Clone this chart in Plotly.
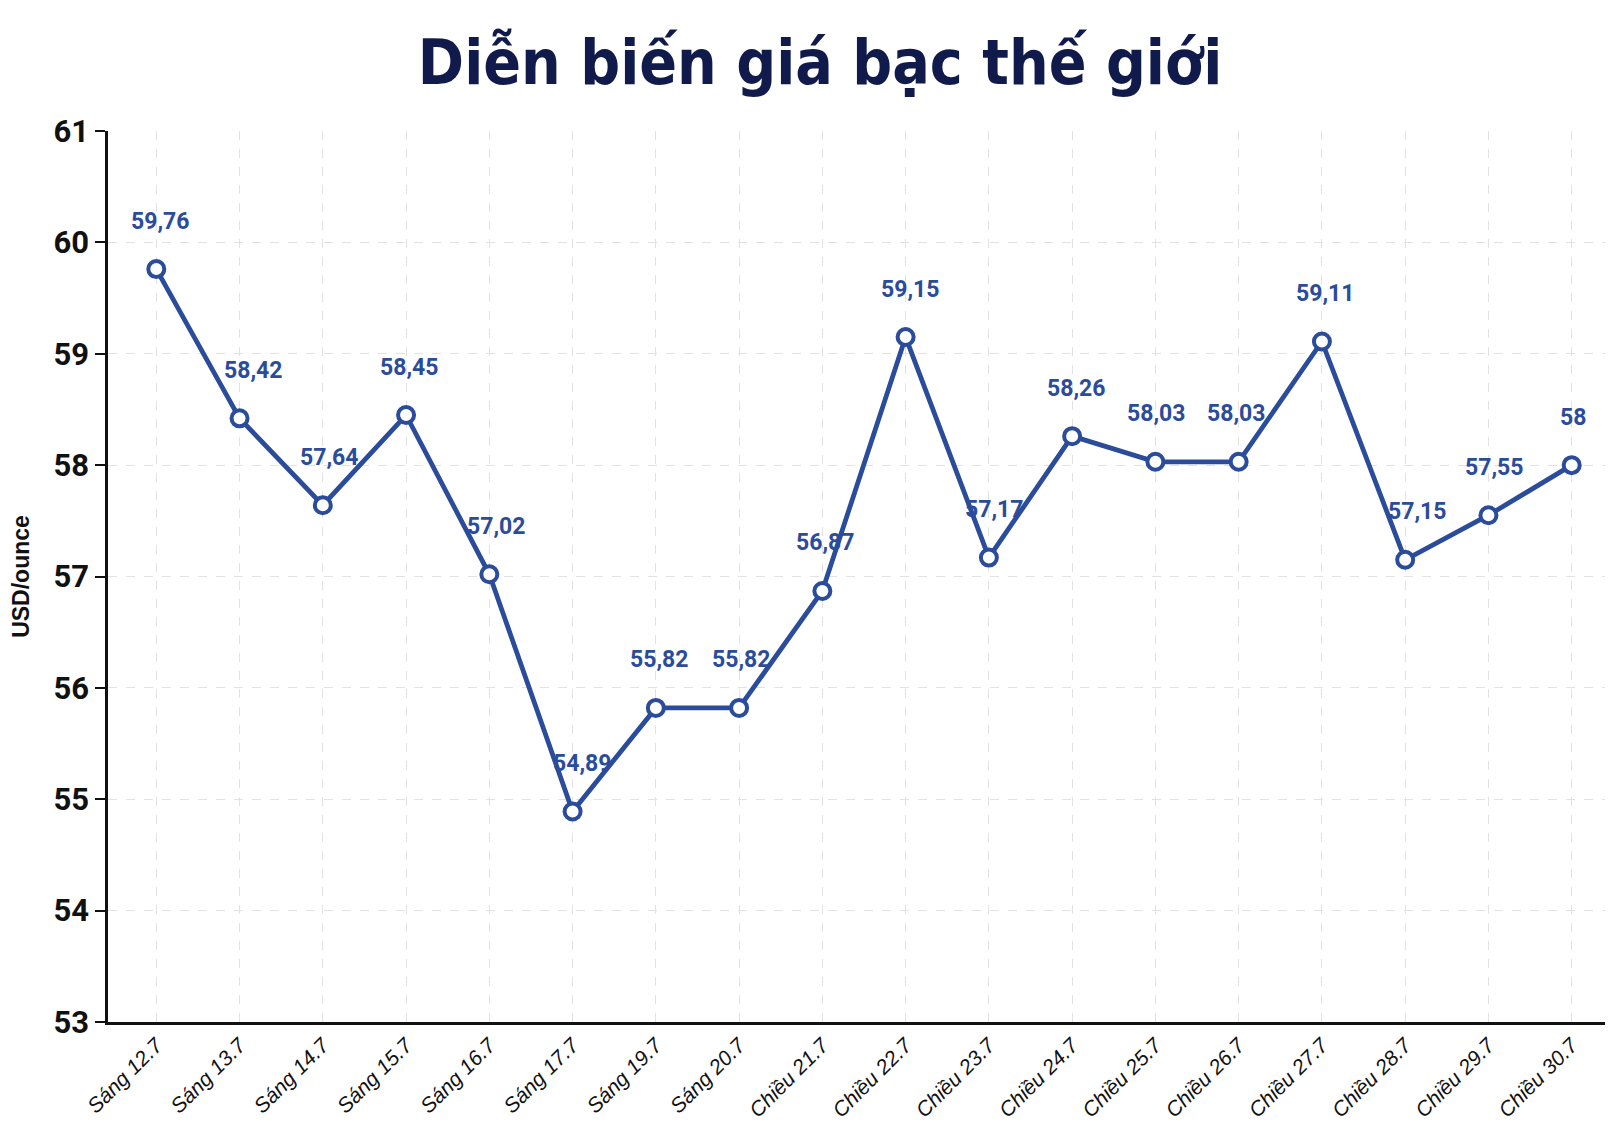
import plotly.graph_objects as go

categories = ["Sáng 12.7", "Sáng 13.7", "Sáng 14.7", "Sáng 15.7", "Sáng 16.7", "Sáng 17.7",
              "Sáng 19.7", "Sáng 20.7", "Chiều 21.7", "Chiều 22.7", "Chiều 23.7", "Chiều 24.7",
              "Chiều 25.7", "Chiều 26.7", "Chiều 27.7", "Chiều 28.7", "Chiều 29.7", "Chiều 30.7"]
prices = [59.76, 58.42, 57.64, 58.45, 57.02, 54.89, 55.82, 55.82, 56.87, 59.15,
          57.17, 58.26, 58.03, 58.03, 59.11, 57.15, 57.55, 58]
y_ticks = [53, 54, 55, 56, 57, 58, 59, 60, 61]

# horizontal nudges of the value labels (pixels), styling only
label_nudge = [4, 13, 6, 3, 7, 9, 3, 2, 3, 4, 5, 4, 1, -3, 3, 12, 6, 1]

LINE = "#2b4c9b"
NARROW = "Liberation Sans Narrow, Roboto, Arial Narrow, sans-serif"

def fmt(v):
    s = f"{v:.2f}".rstrip("0").rstrip(".")
    return s.replace(".", ",")

xs = list(range(len(categories)))

fig = go.Figure()
fig.add_trace(go.Scatter(
    x=xs, y=prices, mode="lines+markers",
    line=dict(color=LINE, width=4.8),
    marker=dict(symbol="circle", size=16, color="white", line=dict(color=LINE, width=4)),
    hoverinfo="skip", showlegend=False,
))

for i, v in enumerate(prices):
    fig.add_annotation(x=i, y=v, text=fmt(v), showarrow=False, yshift=48, xshift=label_nudge[i],
                       font=dict(family=NARROW, size=23, color=LINE, weight="bold"))

fig.update_layout(
    width=1624, height=1146,
    margin=dict(l=108, r=19, t=131, b=124),
    paper_bgcolor="white", plot_bgcolor="white",
    title=dict(text="Diễn biến giá bạc thế giới", x=0.505, xanchor="center", y=0.946, yanchor="middle",
               font=dict(family="DejaVu Sans Condensed, DejaVu Sans", size=62, color="#101b4c", weight="bold")),
)
fig.update_xaxes(
    tickmode="array", tickvals=xs, ticktext=categories, tickangle=-45,
    range=[-0.58, 17.4], showline=True, linecolor="#111", linewidth=2.5,
    showgrid=True, gridcolor="#e2e2e2", griddash="dash", gridwidth=1,
    ticks="", zeroline=False,
    tickfont=dict(family="Liberation Sans, Arial, sans-serif", size=21, color="#111", style="italic"),
)
fig.update_yaxes(
    range=[53, 61], tickmode="array", tickvals=y_ticks, ticktext=[str(t) for t in y_ticks],
    showline=True, linecolor="#111", linewidth=2.5,
    ticks="outside", ticklen=10, tickwidth=2, tickcolor="#111",
    showgrid=True, gridcolor="#e2e2e2", griddash="dash", gridwidth=1, zeroline=False,
    tickfont=dict(family=NARROW, size=31, color="#111", weight="bold"),
    title=dict(text="USD/ounce", standoff=18,
               font=dict(family="Liberation Sans, Arial, sans-serif", size=23, color="#111", weight="bold")),
)

fig.write_html("out.html")
